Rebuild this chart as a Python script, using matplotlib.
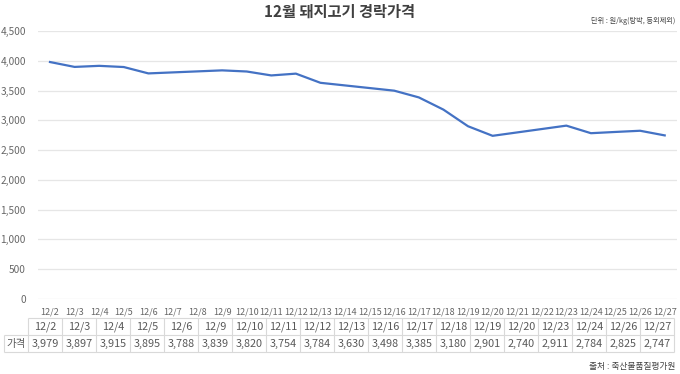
import matplotlib
matplotlib.use('Agg')
import matplotlib.pyplot as plt

plt.rcParams['font.family'] = ['Noto Sans CJK KR', 'DejaVu Sans']

# Chart line (one point per calendar day)
days = ['12/2', '12/3', '12/4', '12/5', '12/6', '12/7', '12/8', '12/9', '12/10',
        '12/11', '12/12', '12/13', '12/14', '12/15', '12/16', '12/17', '12/18',
        '12/19', '12/20', '12/21', '12/22', '12/23', '12/24', '12/25', '12/26', '12/27']
prices = [3979, 3897, 3915, 3895, 3788, 3805, 3822, 3839, 3820,
          3754, 3784, 3630, 3586, 3542, 3498, 3385, 3180,
          2901, 2740, 2797, 2854, 2911, 2784, 2805, 2825, 2747]

# Table below the chart (trading days only)
table_days = ['12/2', '12/3', '12/4', '12/5', '12/6', '12/9', '12/10', '12/11', '12/12',
              '12/13', '12/16', '12/17', '12/18', '12/19', '12/20', '12/23', '12/24',
              '12/26', '12/27']
table_prices = [3979, 3897, 3915, 3895, 3788, 3839, 3820, 3754, 3784,
                3630, 3498, 3385, 3180, 2901, 2740, 2911, 2784, 2825, 2747]

W, H = 680, 374
fig = plt.figure(figsize=(W / 100, H / 100), dpi=100)

ax = fig.add_axes([37.7 / W, 1 - 299 / H, (677 - 37.7) / W, (299 - 31) / H])
x = range(len(days))
ax.plot(x, prices, color='#4472C4', lw=1.6)
ax.set_xlim(-0.5, len(days) - 0.5)
ax.set_ylim(0, 4500)
ax.set_yticks(range(0, 4501, 500))
ax.set_yticklabels([f'{v:,}' for v in range(0, 4501, 500)])
ax.set_xticks(list(x))
ax.set_xticklabels(days)
ax.tick_params(axis='y', length=0, labelsize=7.3, labelcolor='#666666', pad=8.5)
ax.tick_params(axis='x', length=0, labelsize=6.5, labelcolor='#666666', pad=6)
ax.grid(axis='y', color='#e6e6e6', lw=0.9)
ax.set_axisbelow(True)
for s in ax.spines.values():
    s.set_visible(False)

fig.text(340 / W, 1 - 12 / H, '12월 돼지고기 경락가격', ha='center', va='center',
         fontsize=11, fontweight='bold', color='#404040')
fig.text(675 / W, 1 - 21 / H, '단위 : 원/kg(탕박, 등외제외)', ha='right', va='center',
         fontsize=5.2, color='#404040')
fig.text(675 / W, 1 - 366 / H, '출처 : 축산물품질평가원', ha='right', va='center',
         fontsize=6.3, color='#404040')

# Table
tax = fig.add_axes([0, 0, 1, 1])
tax.set_xlim(0, W)
tax.set_ylim(H, 0)
tax.axis('off')
lc = '#d9d9d9'
x0, xl, cw = 4, 28, 34
y0, y1, y2 = 318, 335, 352
n = len(table_days)
x_end = xl + cw * n
tax.hlines([y0], xl, x_end, color=lc, lw=0.8)
tax.hlines([y1, y2], x0, x_end, color=lc, lw=0.8)
tax.vlines([x0], y1, y2, color=lc, lw=0.8)
tax.vlines([xl + cw * i for i in range(n + 1)], y0, y2, color=lc, lw=0.8)
tax.text((x0 + xl) / 2, (y1 + y2) / 2, '가격', ha='center', va='center',
         fontsize=7.5, color='#595959')
for i, (d, p) in enumerate(zip(table_days, table_prices)):
    cx = xl + cw * (i + 0.5)
    tax.text(cx, (y0 + y1) / 2, d, ha='center', va='center', fontsize=7.8, color='#595959')
    tax.text(cx, (y1 + y2) / 2, f'{p:,}', ha='center', va='center', fontsize=7.8,
             color='#595959')

fig.savefig('out.png', dpi=100, facecolor='white')
